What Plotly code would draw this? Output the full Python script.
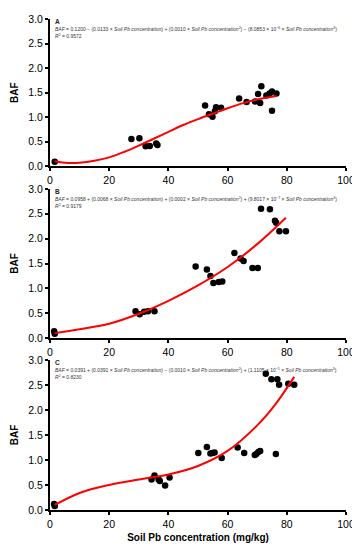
import plotly.graph_objects as go

# ---------------- data ----------------
# Panel A
a_x = [1.6, 27.5, 30.2, 32.3, 33.7, 35.9, 36.3, 52.4, 53.7, 54.9, 55.7, 56.1, 57.8,
       63.9, 66.4, 69.3, 70.3, 71.0, 71.4, 73.1, 74.2, 75.0, 75.0, 76.5]
a_y = [0.09, 0.555, 0.57, 0.405, 0.41, 0.465, 0.43, 1.235, 1.06, 1.01, 1.12, 1.20, 1.19,
       1.38, 1.31, 1.32, 1.47, 1.29, 1.63, 1.44, 1.48, 1.52, 1.13, 1.48]
a_fit_x = [1.6, 5, 10, 15, 20, 25, 30, 35, 40, 45, 50, 55, 60, 65, 70, 76.5]
a_fit_y = [0.10, 0.07, 0.07, 0.11, 0.18, 0.29, 0.42, 0.56, 0.70, 0.84, 0.96, 1.07, 1.18, 1.28, 1.36, 1.43]

# Panel B
b_x = [1.4, 1.6, 28.9, 30.3, 31.8, 33.1, 35.3, 49.2, 53.0, 54.2, 55.2, 57.0, 58.2,
       62.3, 64.4, 65.4, 68.4, 70.2, 71.3, 74.3, 76.0, 76.4, 77.5, 79.7]
b_y = [0.14, 0.085, 0.54, 0.48, 0.53, 0.54, 0.54, 1.44, 1.38, 1.25, 1.11, 1.13, 1.14,
       1.71, 1.60, 1.55, 1.41, 1.41, 2.60, 2.59, 2.36, 2.32, 2.15, 2.15]
b_fit_x = [1.6, 10, 20, 30, 40, 50, 60, 70, 79.7]
b_fit_y = [0.10, 0.18, 0.29, 0.49, 0.75, 1.06, 1.43, 1.89, 2.42]

# Panel C
c_x = [1.4, 1.6, 34.3, 35.3, 36.7, 37.1, 38.9, 40.4, 50.1, 53.0, 54.2, 54.9, 55.6, 58.0,
       63.4, 65.6, 69.2, 69.7, 70.4, 71.0, 76.3, 72.9, 74.8, 76.8, 77.4, 80.5, 82.5]
c_y = [0.12, 0.08, 0.61, 0.69, 0.61, 0.58, 0.49, 0.65, 1.14, 1.26, 1.13, 1.14, 1.15, 1.04,
       1.25, 1.14, 1.10, 1.12, 1.16, 1.18, 1.12, 2.72, 2.61, 2.61, 2.50, 2.52, 2.50]
c_fit_x = [1.6, 10, 20, 30, 40, 50, 60, 70, 76, 82.5]
c_fit_y = [0.10, 0.34, 0.50, 0.61, 0.71, 0.88, 1.18, 1.69, 2.10, 2.66]

panel_letters = ["A", "B", "C"]
equations = [
    "<i>BAF</i> = 0.1200 \u2212 (0.0133 \u00d7 <i>Soil Pb concentration</i>) + (0.0010 \u00d7 <i>Soil Pb concentration</i><sup>2</sup>) \u2212 (8.0853 \u00d7 10<sup>\u22126</sup> \u00d7 <i>Soil Pb concentration</i><sup>3</sup>)",
    "<i>BAF</i> = 0.0958 + (0.0068 \u00d7 <i>Soil Pb concentration</i>) + (0.0002 \u00d7 <i>Soil Pb concentration</i><sup>2</sup>) + (9.8017 \u00d7 10<sup>\u22127</sup> \u00d7 <i>Soil Pb concentration</i><sup>3</sup>)",
    "<i>BAF</i> = 0.0391 + (0.0391 \u00d7 <i>Soil Pb concentration</i>) \u2212 (0.0010 \u00d7 <i>Soil Pb concentration</i><sup>2</sup>) + (1.1105 \u00d7 10<sup>\u22125</sup> \u00d7 <i>Soil Pb concentration</i><sup>3</sup>)",
]
r2_values = ["0.9572", "0.9179", "0.8230"]

x_ticks = [0, 20, 40, 60, 80, 100]
y_ticks = [0.0, 0.5, 1.0, 1.5, 2.0, 2.5, 3.0]

# ---------------- figure ----------------
# the page body has a default 8px margin, so the figure is sized/offset for it
OFF = 8
W, H = 360 - OFF, 550 - OFF
ml, mr = 42 - OFF, W - (346 - OFF)
tops = [13 - OFF, 185 - OFF, 358 - OFF]
bots = [162 - OFF, 336 - OFF, 510 - OFF]
mt, mb = tops[0], H - bots[2]
ph = H - mt - mb
domains = [[(H - mb - b) / ph, (H - mb - t) / ph] for t, b in zip(tops, bots)]

fig = go.Figure()
series = [(a_x, a_y, a_fit_x, a_fit_y), (b_x, b_y, b_fit_x, b_fit_y), (c_x, c_y, c_fit_x, c_fit_y)]
for i, (px, py, fx, fy) in enumerate(series):
    xa = "x" if i == 0 else f"x{i+1}"
    ya = "y" if i == 0 else f"y{i+1}"
    fig.add_trace(go.Scatter(x=px, y=py, mode="markers", xaxis=xa, yaxis=ya,
                             marker=dict(color="black", size=6.5), showlegend=False))
    fig.add_trace(go.Scatter(x=fx, y=fy, mode="lines", xaxis=xa, yaxis=ya,
                             line=dict(color="#ff0000", width=2, shape="spline", smoothing=1.0),
                             showlegend=False))

font_family = "Liberation Sans, Arial, sans-serif"
for i in range(3):
    sx = "" if i == 0 else str(i + 1)
    xaxis = dict(
        domain=[0, 1], anchor=f"y{sx}", range=[0, 100], tickvals=x_ticks,
        ticktext=[str(v) for v in x_ticks], showgrid=False, zeroline=False,
        showline=True, linecolor="black", linewidth=2, ticks="outside", ticklen=3,
        tickwidth=1.5, tickcolor="black", tickfont=dict(size=10.5, color="black", family=font_family),
    )
    if i == 2:
        xaxis["title"] = dict(text="<b>Soil Pb concentration (mg/kg)</b>",
                              font=dict(size=10, color="black", family=font_family), standoff=5)
    fig.layout[f"xaxis{sx}"] = xaxis
    fig.layout[f"yaxis{sx}"] = dict(
        domain=domains[i], anchor=f"x{sx}", range=[0, 3], tickvals=y_ticks,
        ticktext=[f"{v:.1f}" for v in y_ticks], showgrid=False, zeroline=False,
        showline=True, linecolor="black", linewidth=2, ticks="outside", ticklen=3,
        tickwidth=1.5, tickcolor="black", tickfont=dict(size=10.5, color="black", family=font_family),
        title=dict(text="<b>BAF</b>", font=dict(size=10, color="black", family=font_family), standoff=8),
    )
    fig.add_annotation(xref=f"x{sx} domain", yref=f"y{sx} domain", x=0.01, y=1,
                       xanchor="left", yanchor="top", yshift=3, showarrow=False,
                       text=f"<b>{panel_letters[i]}</b>",
                       font=dict(size=6.5, color="#222", family=font_family))
    fig.add_annotation(xref=f"x{sx} domain", yref=f"y{sx} domain", x=0.01, y=1,
                       xanchor="left", yanchor="top", yshift=-5, showarrow=False,
                       text=equations[i], font=dict(size=5.0, color="#333", family=font_family))
    fig.add_annotation(xref=f"x{sx} domain", yref=f"y{sx} domain", x=0.01, y=1,
                       xanchor="left", yanchor="top", yshift=-12, showarrow=False,
                       text=f"<i>R</i><sup>2</sup> = {r2_values[i]}",
                       font=dict(size=5.0, color="#333", family=font_family))

fig.update_layout(width=W, height=H, margin=dict(l=ml, r=mr, t=mt, b=mb),
                  paper_bgcolor="white", plot_bgcolor="white",
                  font=dict(family=font_family, color="black"))
fig.write_html("out.html")
